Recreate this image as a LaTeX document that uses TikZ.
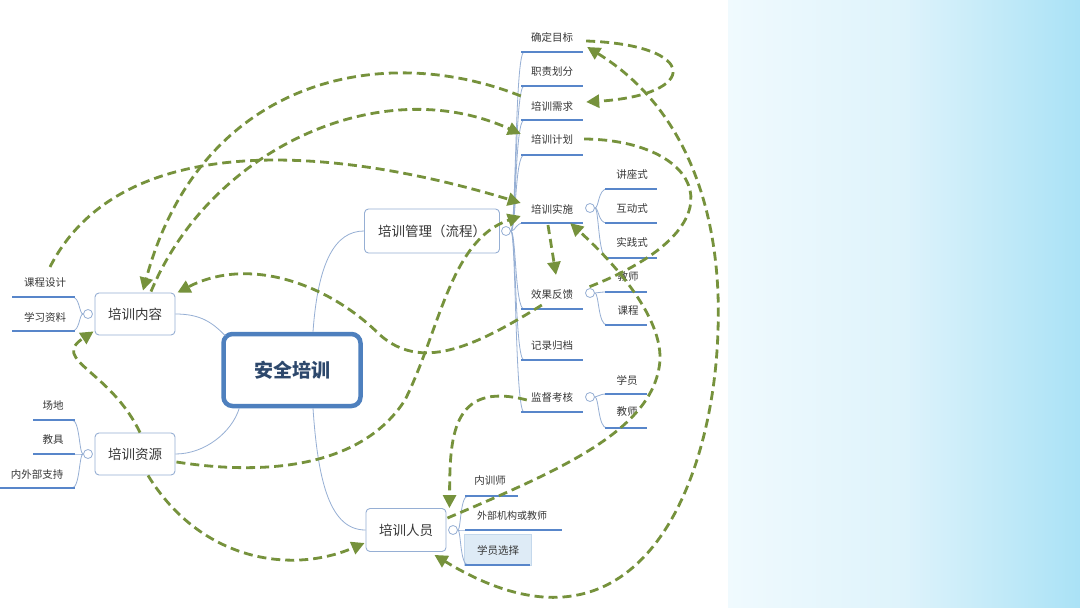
\documentclass[tikz,border=0pt]{standalone}
\usepackage{fontspec}
\newfontfamily\cjk{Noto Sans CJK SC}
\usetikzlibrary{arrows.meta,calc}
\definecolor{dgreen}{RGB}{118,146,60}
\definecolor{ublue}{RGB}{88,134,202}
\definecolor{bborder}{RGB}{150,175,212}
\definecolor{cblue}{RGB}{78,128,190}
\definecolor{txt}{RGB}{55,55,55}
\definecolor{ctxt}{RGB}{45,72,108}
\definecolor{bgL}{RGB}{240,250,254}
\definecolor{bgM}{RGB}{222,243,251}
\definecolor{bgR}{RGB}{170,226,246}
\definecolor{selfill}{RGB}{222,235,246}
\definecolor{selbord}{RGB}{196,216,236}
\begin{document}
\begin{tikzpicture}[x=1pt,y=-1pt,
  box/.style={draw=bborder, line width=0.9pt, rounded corners=4pt, fill=white,
    font=\cjk\fontsize{13.5}{15}\selectfont, text=txt, inner sep=0pt},
  item/.style={font=\cjk\fontsize{10.5}{12}\selectfont, text=txt, inner sep=1pt},
  uline/.style={draw=ublue, line width=2.6pt},
  conn/.style={draw=bborder, line width=0.8pt},
  tog/.style={circle, draw=bborder, fill=white, line width=0.8pt, minimum size=9pt, inner sep=0pt},
  darr/.style={draw=dgreen, line width=2.8pt, dash pattern=on 9pt off 5pt,
    -{Triangle[length=13pt,width=13pt]}},
  tip/.tip={Triangle[length=13pt,width=13pt]}
]
\useasboundingbox (0,0) rectangle (1080,608);
\fill[white] (0,0) rectangle (728,608);
\shade[left color=bgL, right color=bgR, middle color=bgM] (728,0) rectangle (1080,608);

% main nodes
\node[draw=cblue, line width=4.5pt, rounded corners=9pt, fill=white,
  minimum width=137pt, minimum height=72pt,
  font=\cjk\bfseries\fontsize{19}{21}\selectfont, text=ctxt] (cen) at (292,370) {安全培训};
\node[box, minimum width=135pt, minimum height=44pt] (gl) at (432,231) {培训管理（流程）};
\node[box, minimum width=80pt, minimum height=42pt] (nr) at (135,314) {培训内容};
\node[box, minimum width=80pt, minimum height=42pt] (zy) at (135,454) {培训资源};
\node[box, minimum width=80pt, minimum height=43pt] (ry) at (406,530) {培训人员};

% connectors from centre
\draw[conn] (nr.east) .. controls (200,314) and (212,322) .. ($(cen.north west)+(4,4)$);
\draw[conn] (zy.east) .. controls (205,454) and (232,432) .. ($(cen.south west)+(18,0)$);
\draw[conn] ($(cen.north)+(21,0)$) .. controls (318,262) and (335,231) .. (gl.west);
\draw[conn] ($(cen.south)+(21,0)$) .. controls (318,482) and (330,530) .. (ry.west);

% toggles
\node[tog] (tnr) at (88,314) {};
\node[tog] (tzy) at (88,454) {};
\node[tog] (tgl) at (506,231) {};
\node[tog] (tss) at (590,208) {};
\node[tog] (tfk) at (590,293) {};
\node[tog] (tjd) at (590,397) {};
\node[tog] (try) at (453,530) {};

% management spine
\foreach \y in {52,86,120,155,223,309,360,412}{
  \draw[conn] (tgl.east) .. controls (516,231) and (515,\y) .. (524,\y);
  \draw[uline] (521,\y) -- (583,\y);
}
\node[item] (qd) at (552,37) {确定目标};
\node[item] (zz) at (552,72) {职责划分};
\node[item] (xq) at (552,106) {培训需求};
\node[item] (jh) at (552,139) {培训计划};
\node[item] (ss) at (552,209) {培训实施};
\node[item] (fk) at (552,295) {效果反馈};
\node[item] (gd) at (552,346) {记录归档};
\node[item] (jd) at (552,397) {监督考核};

% sub-branches of 培训实施
\foreach \y in {189,223,258}{
  \draw[conn] (tss.east) .. controls (599,208) and (598,\y) .. (607,\y);
  \draw[uline] (605,\y) -- (657,\y);
}
\node[item] (jzs) at (632,174) {讲座式};
\node[item] (hds) at (632,209) {互动式};
\node[item] (sjs) at (632,242) {实践式};

% sub-branches of 效果反馈
\foreach \y in {292,325}{
  \draw[conn] (tfk.east) .. controls (599,293) and (598,\y) .. (607,\y);
  \draw[uline] (605,\y) -- (647,\y);
}
\node[item] (fjs) at (628,277) {教师};
\node[item] (fkc) at (628,311) {课程};

% sub-branches of 监督考核
\foreach \y in {394,428}{
  \draw[conn] (tjd.east) .. controls (599,397) and (598,\y) .. (607,\y);
  \draw[uline] (605,\y) -- (647,\y);
}
\node[item] (jxy) at (627,380) {学员};
\node[item] (jjs) at (627,412) {教师};

% 培训内容 branch
\foreach \y in {297,331}{
  \draw[conn] (tnr.west) .. controls (79,314) and (80,\y) .. (72,\y);
  \draw[uline] (12,\y) -- (75,\y);
}
\node[item] (kcsj) at (45,283) {课程设计};
\node[item] (xxzl) at (45,317) {学习资料};

% 培训资源 branch
\foreach \y/\x in {420/33,454/33,488/0}{
  \draw[conn] (tzy.west) .. controls (79,454) and (80,\y) .. (72,\y);
  \draw[uline] (\x,\y) -- (75,\y);
}
\node[item] (cd) at (53,406) {场地};
\node[item] (jj) at (53,440) {教具};
\node[item] (nwb) at (37,474) {内外部支持};

% 培训人员 branch
\node[fill=selfill, draw=selbord, line width=0.8pt, minimum width=67pt, minimum height=31pt,
  font=\cjk\fontsize{10.5}{12}\selectfont, text=txt] (xyxz) at (498,550) {学员选择};
\foreach \y/\x in {496/518,530/562,565/530}{
  \draw[conn] (try.east) .. controls (461,530) and (460,\y) .. (468,\y);
  \draw[uline] (465,\y) -- (\x,\y);
}
\node[item] (nxs) at (490,481) {内训师};
\node[item, font=\cjk\fontsize{10}{12}\selectfont] (wbjg) at (512,516) {外部机构或教师};

% dashed relations
\draw[darr] ($(kcsj.north)+(5,-10)$) .. controls (120,130) and (330,145) .. ($(ss.west)+(-9,-6)$);
\draw[darr] ($(xq.west)+(-9,-10)$) .. controls (380,40) and (200,80) .. ($(nr.north)+(8,-2)$);
\draw[darr] ($(nr.north)+(16,-1)$) .. controls (210,150) and (380,70) .. ($(jh.west)+(-9,-5)$);
\draw[darr] ($(fk.south west)+(12,4)$) .. controls (470,350) and (420,370) .. (380,335)
  .. controls (330,285) and (250,255) .. ($(nr.north east)+(2,0)$);
\draw[darr] ($(ss.south)+(-4,10)$) -- ($(fk.north)+(4,-14)$);
\draw[darr] ($(qd.east)+(12,4)$) .. controls (700,45) and (700,95) .. ($(xq.east)+(12,-4)$);
\draw[darr, tip-tip] ($(qd.east)+(13,10)$) .. controls (690,110) and (722,220) .. (718,330)
  .. controls (714,480) and (640,680) .. ($(ry.south east)+(-12,3)$);
\draw[darr, -] ($(jh.east)+(10,0)$) .. controls (700,140) and (750,225) .. ($(fk.east)+(12,-7)$);
\draw[darr] ($(ry.north east)+(1,10)$) .. controls (560,470) and (655,430) .. (660,360)
  .. controls (662,310) and (600,250) .. ($(ss.south east)+(-4,8)$);
\draw[darr] ($(jd.west)+(-3,3)$) .. controls (450,380) and (450,440) .. ($(ry.north east)+(3,0)$);
\draw[darr] ($(zy.north)+(5,0)$) .. controls (110,370) and (50,360) .. ($(nr.south west)+(-1,-4)$);
\draw[darr] ($(zy.south)+(13,0)$) .. controls (200,560) and (290,575) .. ($(ry.west)+(-1,13)$);
\draw[darr] ($(zy.east)+(1,8)$) .. controls (260,475) and (360,470) .. (405,400)
  .. controls (440,330) and (450,240) .. ($(ss.west)+(-9,7)$);
\end{tikzpicture}
\end{document}
